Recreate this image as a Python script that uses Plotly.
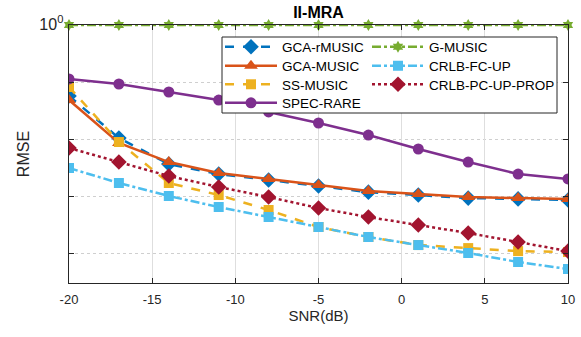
import plotly.graph_objects as go

snr = [-20, -17, -14, -11, -8, -5, -2, 1, 4, 7, 10]

gca_rmusic = [0.0568, 0.0104, 0.00364, 0.00243, 0.00191, 0.00150, 0.00117, 0.00104, 0.00092, 0.00089, 0.00085]
gca_music = [0.0483, 0.00851, 0.00394, 0.00254, 0.00199, 0.00156, 0.00122, 0.00108, 0.00096, 0.00092, 0.00089]
ss_music = [0.0817, 0.00885, 0.00169, 0.00104, 0.000568, 0.000286, 0.000191, 0.000138, 0.000122, 0.000108, 0.000104]
spec_rare = [0.113, 0.0923, 0.0668, 0.0483, 0.0298, 0.0191, 0.01175, 0.00668, 0.00394, 0.00243, 0.00199]
g_music = [1, 1, 1, 1, 1, 1, 1, 1, 1, 1, 1]
crlb_fc_up = [0.0031, 0.00169, 0.0010, 0.000641, 0.000428, 0.000286, 0.000191, 0.000138, 0.0001, 0.0000695, 0.0000524]
crlb_pc_up_prop = [0.00695, 0.00394, 0.00224, 0.00144, 0.00096, 0.000615, 0.000428, 0.00031, 0.000224, 0.000156, 0.000108]

y_major = [1]
y_major_text = ["<span style='font-size:16px'>10<sup>0</sup></span>"]
y_minor = [0.1, 0.01, 0.001, 0.0001]
x_tickvals = [-20, -15, -10, -5, 0, 5, 10]
x_ticktext = ["-20", "-15", "-10", "-5", "0", "5", "10"]

FONT = "Liberation Sans, Arial, sans-serif"
W, H = 581, 337
L, R, T, B = 69, 13, 25, 54
PW, PH = W - L - R, H - T - B

def px_x(x):
    return (x - L) / PW

def px_y(y):
    return 1 - (y - T) / PH

fig = go.Figure()

# (name, values, color, dash, symbol, size, legend column, legend row)
series = [
    ("GCA-rMUSIC", gca_rmusic, "#0072BD", "dash", "diamond", 12, 0, 0),
    ("GCA-MUSIC", gca_music, "#D95319", "solid", "triangle-up", 12, 0, 1),
    ("SS-MUSIC", ss_music, "#EDB120", "dash", "square", 10, 0, 2),
    ("SPEC-RARE", spec_rare, "#7E2F8E", "solid", "circle", 11, 0, 3),
    ("G-MUSIC", g_music, "#77AC30", "dashdot", "hexagram", 9, 1, 0),
    ("CRLB-FC-UP", crlb_fc_up, "#4DBEEE", "dashdot", "square", 10, 1, 1),
    ("CRLB-PC-UP-PROP", crlb_pc_up_prop, "#A2142F", "dot", "diamond", 12, 1, 2),
]

row_y = [47, 66, 84.5, 103]
col_x = [220, 367]
legends = {}

for i, (name, vals, color, dash, sym, size, col, row) in enumerate(series):
    key = "legend" if i == 0 else f"legend{i + 1}"
    legends[key] = dict(x=px_x(col_x[col]), y=px_y(row_y[row]), xanchor="left", yanchor="middle",
                        bgcolor="rgba(0,0,0,0)", borderwidth=0, itemwidth=52,
                        font=dict(family=FONT, size=13.5, color="black"))
    fig.add_trace(go.Scatter(
        x=snr, y=vals, name=name, mode="lines+markers",
        line=dict(color=color, width=2.5, dash=dash),
        marker=dict(symbol=sym, size=size, color=color, line=dict(width=0)),
        legend=key, cliponaxis=(name != "G-MUSIC"),
    ))

# legend box
fig.add_shape(type="rect", xref="paper", yref="paper",
              x0=px_x(222), x1=px_x(557), y0=px_y(113), y1=px_y(37),
              line=dict(color="#262626", width=1), fillcolor="white", layer="above")

axis_common = dict(showline=True, linecolor="#262626", linewidth=1, mirror="ticks",
                   ticks="inside", ticklen=5, tickcolor="#262626", automargin=False,
                   tickfont=dict(family=FONT, size=13, color="#262626"),
                   showgrid=True, zeroline=False)

fig.update_layout(
    width=W, height=H,
    margin=dict(l=L, r=R, t=T, b=B, autoexpand=False),
    paper_bgcolor="white", plot_bgcolor="white",
    font=dict(family=FONT, color="#262626"),
    title=dict(text="<b>II-MRA</b>", x=px_x(318.5), xref="paper", xanchor="center",
               y=1 - 12 / H, yanchor="middle", font=dict(family=FONT, size=16, color="black")),
    xaxis=dict(range=[-20, 10], tickvals=x_tickvals, ticktext=x_ticktext,
               gridcolor="#dedede", gridwidth=1, ticklabelstandoff=4,
               title=dict(text="SNR(dB)", font=dict(family=FONT, size=15, color="#262626"), standoff=4),
               **axis_common),
    yaxis=dict(type="log", range=[-4.526, 0], tickvals=y_major, ticktext=y_major_text,
               gridcolor="#cfcfcf", griddash="dot", gridwidth=1, ticklabelstandoff=2,
               minor=dict(tickmode="array", tickvals=y_minor, ticks="inside", ticklen=5,
                          tickcolor="#262626", showgrid=True, gridcolor="#cfcfcf",
                          griddash="dot", gridwidth=1),
               title=dict(text="RMSE", font=dict(family=FONT, size=16, color="#262626"), standoff=5),
               **axis_common),
    showlegend=True,
    **legends,
)

fig.write_html("out.html")
